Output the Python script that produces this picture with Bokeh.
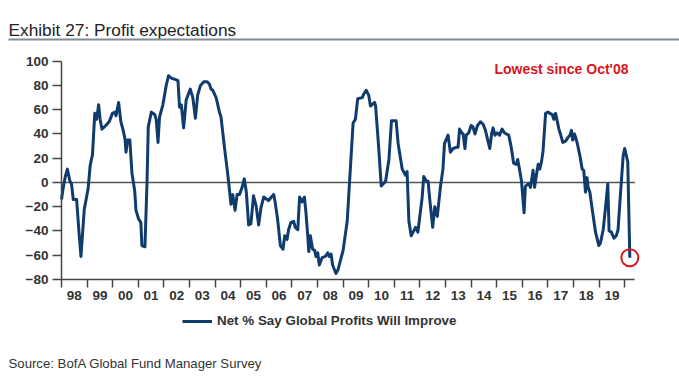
from bokeh.plotting import figure
from bokeh.models import (FixedTicker, Label, Legend, LegendItem, BoxAnnotation,
                          Range1d, ColumnDataSource)
from bokeh.embed import file_html
from bokeh.resources import INLINE

# ---- data (position in chart years, net % value) ----
t = [1998.00, 1998.07, 1998.15, 1998.23, 1998.33, 1998.39, 1998.46, 1998.59, 1998.68, 1998.76,
     1998.89, 1999.04, 1999.12, 1999.21, 1999.30, 1999.37, 1999.45, 1999.51, 1999.58, 1999.73,
     1999.86, 1999.99, 2000.09, 2000.13, 2000.23, 2000.32, 2000.41, 2000.48, 2000.52, 2000.58,
     2000.67, 2000.75, 2000.86, 2000.91, 2001.01, 2001.10, 2001.14, 2001.26, 2001.34, 2001.39,
     2001.51, 2001.64, 2001.70, 2001.77, 2001.83, 2001.96, 2002.09, 2002.18, 2002.29, 2002.44,
     2002.55, 2002.61, 2002.68, 2002.77, 2002.87, 2003.03, 2003.13, 2003.23, 2003.32, 2003.43,
     2003.56, 2003.69, 2003.78, 2003.84, 2003.91, 2004.04, 2004.17, 2004.23, 2004.36, 2004.47,
     2004.53, 2004.62, 2004.69, 2004.78, 2004.86, 2004.95, 2005.04, 2005.14, 2005.22, 2005.31,
     2005.40, 2005.50, 2005.60, 2005.70, 2005.79, 2005.90, 2006.03, 2006.09, 2006.20, 2006.29,
     2006.35, 2006.44, 2006.55, 2006.65, 2006.72, 2006.81, 2006.87, 2006.96, 2007.07, 2007.13,
     2007.23, 2007.30, 2007.40, 2007.49, 2007.55, 2007.62, 2007.66, 2007.72, 2007.81, 2007.89,
     2007.94, 2008.01, 2008.07, 2008.18, 2008.31, 2008.40, 2008.46, 2008.53, 2008.59, 2008.72,
     2008.80, 2009.00, 2009.16, 2009.39, 2009.48, 2009.57, 2009.75, 2009.81, 2009.90, 2010.00,
     2010.07, 2010.23, 2010.27, 2010.39, 2010.49, 2010.66, 2010.79, 2010.89, 2011.07, 2011.15,
     2011.31, 2011.44, 2011.50, 2011.57, 2011.66, 2011.83, 2011.92, 2012.09, 2012.15, 2012.26,
     2012.32, 2012.38, 2012.50, 2012.58, 2012.68, 2012.80, 2012.90, 2012.96, 2013.10, 2013.19,
     2013.30, 2013.42, 2013.49, 2013.55, 2013.63, 2013.69, 2013.76, 2013.81, 2013.91, 2014.00,
     2014.07, 2014.15, 2014.25, 2014.37, 2014.47, 2014.56, 2014.65, 2014.73, 2014.80, 2014.86,
     2014.93, 2015.02, 2015.11, 2015.21, 2015.30, 2015.38, 2015.47, 2015.56, 2015.66, 2015.76,
     2015.82, 2015.89, 2015.97, 2016.07, 2016.12, 2016.25, 2016.32, 2016.42, 2016.48, 2016.55,
     2016.62, 2016.68, 2016.75, 2016.81, 2016.91, 2017.00, 2017.08, 2017.17, 2017.23, 2017.30,
     2017.36, 2017.43, 2017.49, 2017.58, 2017.69, 2017.78, 2017.86, 2017.92, 2017.97, 2018.04,
     2018.14, 2018.25, 2018.34, 2018.40, 2018.47, 2018.53, 2018.57, 2018.64, 2018.73, 2018.86,
     2018.99, 2019.05, 2019.16, 2019.25, 2019.34, 2019.39, 2019.48, 2019.58, 2019.67, 2019.74,
     2019.84, 2019.94, 2020.00, 2020.12, 2020.20]

net_pct = [-14, -4, 5, 11, 1, -1, -14, -14, -40, -61,
           -22, -5, 14, 23, 57, 52, 64, 52, 44, 47,
           50, 57, 58, 55, 66, 50, 43, 36, 25, 35,
           35, 8, -7, -23, -30, -33, -52, -53, 0, 46,
           58, 56, 52, 33, 54, 64, 80, 88, 86, 85,
           84, 62, 64, 45, 68, 77, 70, 53, 72, 80,
           83, 83, 81, 77, 76, 70, 58, 54, 30, 11,
           0, -18, -10, -23, -10, -10, -5, 3, -8, -35,
           -34, -11, -19, -35, -21, -12, -14, -15, -12, -10,
           -17, -30, -52, -55, -44, -47, -39, -33, -32, -37,
           -39, -12, -16, -12, -25, -44, -57, -44, -55, -56,
           -61, -58, -68, -62, -61, -58, -61, -59, -68, -75,
           -72, -56, -32, 49, 52, 69, 70, 73, 76, 72,
           63, 66, 63, 29, -3, 1, 19, 51, 51, 32,
           11, 6, 9, -32, -44, -37, -41, -12, 5, 1,
           1, -13, -37, -20, -28, -4, 11, 32, 39, 25,
           28, 29, 29, 44, 41, 40, 28, 39, 41, 47,
           46, 40, 47, 50, 48, 43, 35, 28, 40, 45,
           39, 41, 39, 44, 41, 40, 39, 30, 16, 15,
           19, 11, 1, -25, -3, -1, -4, 10, -4, 6,
           15, 11, 17, 26, 57, 58, 57, 56, 52, 57,
           51, 44, 40, 33, 34, 37, 39, 43, 35, 40,
           33, 22, 11, 10, -8, 4, -4, -8, -22, -41,
           -52, -50, -39, -21, -1, -40, -41, -46, -44, -39,
           -8, 22, 28, 17, -62]

year_starts = list(range(1998, 2021))
year_labels = ["98", "99", "00", "01", "02", "03", "04", "05", "06", "07", "08",
               "09", "10", "11", "12", "13", "14", "15", "16", "17", "18", "19"]
y_ticks = [-80, -60, -40, -20, 0, 20, 40, 60, 80, 100]

series_name = "Net % Say Global Profits Will Improve"
title_text = "Exhibit 27: Profit expectations"
note_text = "Lowest since Oct'08"
source_text = "Source: BofA Global Fund Manager Survey"

# ---- geometry (canvas pixels) ----
W, H = 679, 378
AXIS_X_PX = 61.0          # pixel column of the value axis (start of 1998)
TOP_PX = 60.7             # pixel row of value 100
BOT_PX = 279.0            # pixel row of value -80
PX_PER_YEAR = 25.6
AXIS_END = 2020.4         # right end of the time axis line
Y_MIN, Y_MAX = -80, 100
PX_PER_UNIT = (BOT_PX - TOP_PX) / (Y_MAX - Y_MIN)

X0 = year_starts[0] - AXIS_X_PX / PX_PER_YEAR
X1 = X0 + W / PX_PER_YEAR
YT = Y_MAX + TOP_PX / PX_PER_UNIT
YB = YT - H / PX_PER_UNIT


def px_x(px):
    return X0 + px / PX_PER_YEAR


def px_y(py):
    return YT - py / PX_PER_UNIT


p = figure(width=W, height=H, output_backend="svg", toolbar_location=None,
           x_range=Range1d(X0, X1), y_range=Range1d(YB, YT),
           min_border_left=0, min_border_right=0, min_border_top=0, min_border_bottom=0)
p.outline_line_color = None
p.xgrid.visible = False
p.ygrid.visible = False
p.background_fill_color = "white"
p.border_fill_color = "white"

label_font = "Liberation Sans"
axis_color = "#444444"
text_color = "#333333"

# x axis: boundary ticks at year starts, labels centred in each year
mids = [y + 0.5 for y in year_starts[:-1]]
p.xaxis.fixed_location = Y_MIN
p.xaxis.bounds = (year_starts[0], AXIS_END)
p.xaxis.ticker = FixedTicker(ticks=mids, minor_ticks=year_starts)
p.xaxis.major_label_overrides = {m: lab for m, lab in zip(mids, year_labels)}
p.xaxis.major_tick_out = 0
p.xaxis.major_tick_in = 0
p.xaxis.minor_tick_out = 8
p.xaxis.minor_tick_in = 0
p.xaxis.minor_tick_line_color = axis_color
p.xaxis.minor_tick_line_width = 1.5
p.xaxis.major_label_standoff = 3

p.yaxis.fixed_location = year_starts[0]
p.yaxis.bounds = (Y_MIN, Y_MAX)
p.yaxis.ticker = FixedTicker(ticks=y_ticks)
p.yaxis.major_tick_out = 9
p.yaxis.major_tick_in = 0
p.yaxis.minor_tick_line_color = None
p.yaxis.major_tick_line_color = axis_color
p.yaxis.major_tick_line_width = 1.5
p.yaxis.major_label_standoff = 4

for ax in (p.xaxis, p.yaxis):
    ax.axis_line_color = axis_color
    ax.axis_line_width = 1.5
    ax.major_label_text_font = label_font
    ax.major_label_text_font_style = "bold"
    ax.major_label_text_font_size = "13.5px"
    ax.major_label_text_color = text_color

# zero reference line across the axis extent
p.segment(x0=[year_starts[0]], y0=[0], x1=[AXIS_END], y1=[0],
          line_color="#555555", line_width=1.5, level="underlay")

src = ColumnDataSource(dict(t=t, v=net_pct))
line_r = p.line("t", "v", source=src, line_color="#0f3b6d", line_width=3, line_join="round")

# highlight last reading
p.scatter(x=[t[-1]], y=[net_pct[-1]], marker="circle", size=17, fill_color=None,
          line_color="#d9151e", line_width=2)

legend = Legend(items=[LegendItem(label=series_name, renderers=[line_r])],
                location=(182, H - 328), orientation="horizontal",
                background_fill_alpha=0, border_line_color=None,
                padding=0, margin=0, spacing=0, glyph_width=30, glyph_height=14,
                label_height=14, label_standoff=5,
                label_text_font=label_font, label_text_font_style="bold",
                label_text_font_size="13.4px", label_text_color=text_color)
p.add_layout(legend)

p.add_layout(Label(x=px_x(561), y=px_y(68), text=note_text,
                   text_align="center", text_baseline="middle", text_color="#d9151e",
                   text_font=label_font, text_font_style="bold", text_font_size="14px"))

# title, rule and source
p.add_layout(Label(x=px_x(8), y=px_y(29), text=title_text,
                   text_align="left", text_baseline="alphabetic", text_color="#222222",
                   text_font=label_font, text_font_size="17.3px"))
p.add_layout(BoxAnnotation(left=px_x(8), right=px_x(W), top=px_y(38), bottom=px_y(40),
                           fill_color="#7f8c99", fill_alpha=1, line_color=None))
p.add_layout(Label(x=px_x(8), y=px_y(363), text=source_text,
                   text_align="left", text_baseline="alphabetic", text_color="#333333",
                   text_font=label_font, text_font_size="13.2px"))

open("out.html", "w").write(file_html(p, INLINE))
